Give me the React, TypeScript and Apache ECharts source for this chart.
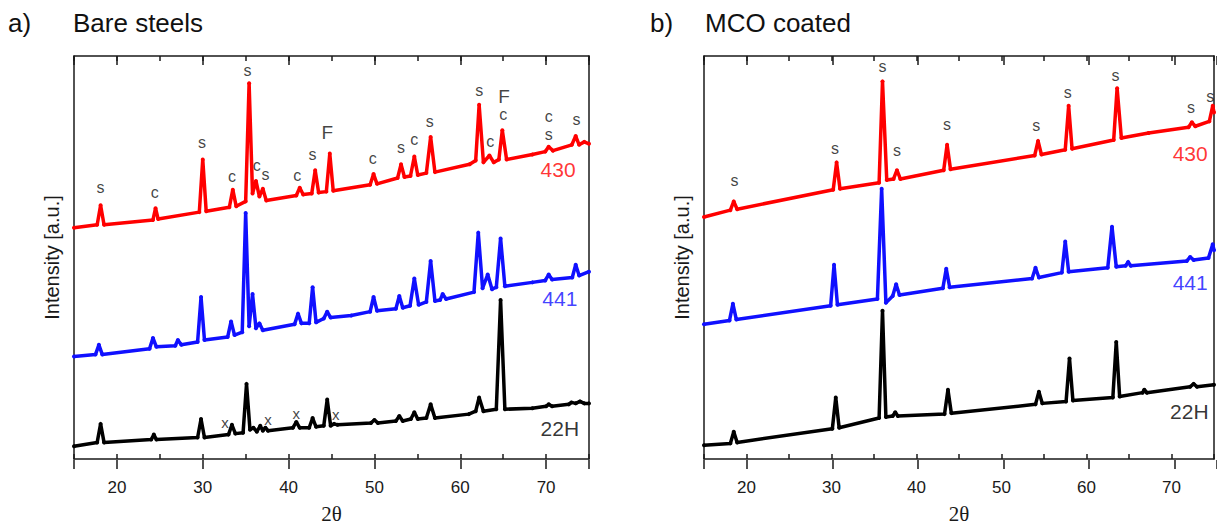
import React, { useEffect, useRef } from 'react';
import * as echarts from 'echarts';

// ---------- data: [2θ, intensity (a.u.)] ----------
const bare430: [number, number][] = [
  [15.0, 237], [17.7, 240], [18.1, 260], [18.5, 240], [24.2, 245], [24.5, 257], [24.8, 246],
  [29.6, 253], [30.0, 307], [30.4, 254], [33.1, 258], [33.5, 276], [33.9, 259], [35.0, 264],
  [35.4, 385], [35.8, 272], [36.2, 285], [36.6, 269], [37.0, 277], [37.4, 265], [40.9, 270],
  [41.3, 278], [41.7, 271], [42.7, 272], [43.1, 296], [43.5, 273], [44.4, 274], [44.8, 313],
  [45.2, 275], [49.5, 281], [49.9, 292], [50.3, 282], [52.7, 288], [53.1, 302], [53.5, 289],
  [54.2, 290], [54.65, 310], [55.05, 291], [56.05, 293], [56.55, 330], [57.05, 294], [61.1, 302],
  [61.8, 306], [62.2, 363], [62.7, 304], [63.4, 311], [63.9, 304], [64.5, 307], [64.9, 337],
  [65.4, 307], [68.4, 312], [69.9, 315], [70.3, 320], [70.8, 316], [73.0, 322], [73.45, 331],
  [73.85, 322], [74.45, 325], [75.0, 323],
];
const bare441: [number, number][] = [
  [15.0, 105], [17.5, 107], [17.9, 117], [18.3, 107], [23.8, 113], [24.2, 124], [24.6, 115],
  [26.8, 116], [27.1, 122], [27.5, 117], [29.4, 120], [29.8, 166], [30.2, 122], [32.9, 125],
  [33.3, 141], [33.7, 127], [34.6, 130], [35.0, 252], [35.4, 136], [35.8, 169], [36.2, 134],
  [36.6, 139], [37.0, 132], [40.7, 138], [41.1, 149], [41.5, 139], [42.4, 139], [42.8, 176],
  [43.2, 140], [44.1, 144], [44.5, 151], [44.9, 145], [47.3, 147], [49.5, 151], [49.9, 166],
  [50.3, 152], [52.5, 154], [52.9, 167], [53.3, 155], [54.15, 157], [54.65, 185], [55.15, 158],
  [56.05, 161], [56.55, 203], [57.05, 162], [57.65, 163], [57.95, 169], [58.35, 164], [61.6, 171],
  [62.1, 232], [62.6, 175], [63.2, 189], [63.7, 174], [64.2, 176], [64.7, 226], [65.2, 177],
  [68.4, 181], [69.9, 183], [70.3, 189], [70.7, 184], [73.05, 186], [73.45, 199], [73.85, 188],
  [75.0, 192],
];
const bare22H: [number, number][] = [
  [15.0, 13], [17.7, 17], [18.1, 36], [18.5, 17], [24.0, 20], [24.3, 25], [24.6, 20],
  [29.4, 22], [29.8, 41], [30.2, 22], [33.0, 25], [33.4, 35], [33.8, 26], [34.7, 27],
  [35.1, 77], [35.5, 30], [35.9, 32], [36.3, 28], [36.7, 34], [37.0, 29], [37.3, 32],
  [37.6, 29], [40.5, 32], [40.9, 38], [41.3, 32], [42.4, 32], [42.8, 42], [43.2, 33],
  [44.1, 34], [44.5, 61], [44.9, 34], [45.3, 36], [45.7, 35], [49.6, 37], [50.0, 40],
  [50.4, 37], [52.5, 39], [52.9, 44], [53.3, 39], [54.25, 41], [54.65, 48], [55.05, 41],
  [56.05, 42], [56.55, 56], [57.05, 42], [61.0, 46], [61.8, 49], [62.2, 63], [62.7, 49],
  [64.2, 51], [64.7, 163], [65.2, 51], [68.4, 52], [70.0, 54], [70.3, 56], [70.7, 54],
  [72.65, 56], [72.95, 58], [73.45, 57], [73.95, 59], [74.45, 57], [75.0, 57],
];
const mco430: [number, number][] = [
  [15.0, 248], [18.1, 255], [18.5, 264], [18.9, 256], [30.2, 276], [30.6, 304], [31.0, 277],
  [35.6, 283], [36.0, 387], [36.5, 286], [37.3, 287], [37.7, 296], [38.1, 287], [43.2, 296],
  [43.6, 322], [44.0, 297], [53.9, 311], [54.3, 326], [54.7, 312], [57.5, 317], [57.9, 362],
  [58.3, 318], [63.2, 327], [63.6, 380], [64.1, 329], [67.3, 334], [72.0, 340], [72.4, 345],
  [72.8, 341], [74.45, 346], [74.85, 362], [75.0, 355],
];
const mco441: [number, number][] = [
  [15.0, 138], [18.0, 142], [18.4, 159], [18.8, 143], [29.9, 157], [30.3, 199], [30.7, 158],
  [35.4, 164], [35.9, 277], [36.4, 160], [37.2, 167], [37.6, 179], [38.0, 168], [43.1, 175],
  [43.5, 195], [43.9, 176], [53.6, 185], [54.0, 196], [54.4, 186], [57.1, 191], [57.5, 223],
  [57.9, 192], [62.5, 196], [63.0, 238], [63.5, 197], [64.6, 198], [64.9, 202], [65.2, 198],
  [71.8, 203], [72.2, 207], [72.6, 204], [74.35, 206], [74.85, 220], [75.0, 214],
];
const mco22H: [number, number][] = [
  [15.0, 14], [18.1, 16], [18.5, 28], [18.9, 17], [30.1, 31], [30.5, 63], [30.9, 32],
  [35.6, 42], [36.0, 152], [36.4, 43], [37.2, 44], [37.5, 48], [37.8, 44], [43.3, 46],
  [43.7, 71], [44.1, 47], [54.0, 56], [54.4, 69], [54.8, 57], [57.6, 59], [58.0, 103],
  [58.4, 60], [63.1, 63], [63.5, 120], [63.9, 64], [66.6, 68], [66.8, 71], [67.1, 68],
  [72.2, 74], [72.6, 77], [73.0, 74], [75.0, 76],
];

// peak annotations: [2θ, intensity, text]
const bareMarks: [number, number, string][] = [
  [18.1, 278, 's'], [24.4, 273, 'c'], [29.9, 324, 's'], [33.4, 289, 'c'], [35.2, 398, 's'],
  [36.3, 301, 'c'], [37.3, 292, 's'], [41.0, 291, 'c'], [42.8, 312, 's'], [44.5, 335, 'F'],
  [49.8, 308, 'c'], [53.1, 319, 's'], [54.65, 327, 'c'], [56.45, 346, 's'], [62.2, 378, 's'],
  [63.5, 325, 'c'], [65.1, 372, 'F'], [65.0, 353, 'c'], [70.3, 351, 'c'], [70.3, 333, 's'],
  [73.55, 348, 's'],
  [32.6, 37, 'x'], [37.6, 40, 'x'], [40.9, 47, 'x'], [45.5, 46, 'x'],
];
const mcoMarks: [number, number, string][] = [
  [18.6, 285, 's'], [30.4, 318, 's'], [36.0, 402, 's'], [37.7, 316, 's'], [43.6, 343, 's'],
  [54.1, 342, 's'], [57.8, 376, 's'], [63.4, 393, 's'], [72.3, 360, 's'], [74.55, 371, 's'],
];
// sample names: [2θ, intensity, text]
const bareNames: [number, number, string][] = [[71.4, 297, '430'], [71.6, 164, '441'], [71.6, 31, '22H']];
const mcoNames: [number, number, string][] = [[72.2, 313, '430'], [72.2, 181, '441'], [72.1, 49, '22H']];

const RED = '#ff0000';
const BLUE = '#1010ff';
const BLACK = '#000000';
const nameColors = [RED, BLUE, BLACK];
const FONT = "'Liberation Sans', Arial, sans-serif";
const INK = '#1a1a1a';

const PANELS = [
  { left: 74, top: 56, width: 515, height: 413 },
  { left: 704, top: 56, width: 516, height: 413 },
];

// grids 0,1: data panels (minor ticks every 5); grids 2,3: overlays with major ticks every 10
function xAxesFor(g: number) {
  const base = { gridIndex: g, type: 'value', min: 15, max: 75, interval: 5, splitLine: { show: false } };
  const line = { show: true, onZero: false, lineStyle: { color: INK, width: 1.5 } };
  const tick = { show: true, inside: true, length: 5, lineStyle: { color: INK, width: 1.5 } };
  return [
    {
      ...base, position: 'bottom', axisLine: line, axisTick: tick,
      axisLabel: {
        show: true, interval: 0, margin: 20, fontSize: 17, fontFamily: FONT, color: INK,
        formatter: (v: number) => (v % 10 === 0 ? String(v) : ''),
      },
      name: '2θ', nameLocation: 'middle', nameGap: 44,
      nameTextStyle: { fontFamily: "'Liberation Serif', 'DejaVu Serif', serif", fontSize: 21, color: INK },
    },
    { ...base, position: 'top', axisLine: line, axisTick: tick, axisLabel: { show: false } },
  ];
}
function majorXAxesFor(g: number) {
  const base = {
    gridIndex: g, type: 'value', min: 15, max: 75, splitNumber: 6, splitLine: { show: false },
    axisLine: { show: false, onZero: false }, axisLabel: { show: false },
    axisTick: { show: true, inside: true, length: 9, lineStyle: { color: INK, width: 1.5 } },
  };
  return [{ ...base, position: 'bottom' }, { ...base, position: 'top' }];
}

function yAxesFor(g: number) {
  const base = {
    gridIndex: g, type: 'value', min: 0, max: 413,
    axisTick: { show: false }, axisLabel: { show: false }, splitLine: { show: false },
    axisLine: { show: true, onZero: false, lineStyle: { color: INK, width: 1.5 } },
  };
  return [
    {
      ...base, position: 'left', name: 'Intensity [a.u.]', nameLocation: 'middle', nameGap: 12,
      nameTextStyle: { fontSize: 20, fontFamily: FONT, color: INK },
    },
    { ...base, position: 'right' },
  ];
}
function hiddenYAxis(g: number) {
  return {
    gridIndex: g, type: 'value', min: 0, max: 413, show: false,
    axisLine: { show: false }, axisTick: { show: false }, axisLabel: { show: false }, splitLine: { show: false },
  };
}

function seriesFor(g: number, curves: [number, number][][], marks: [number, number, string][], names: [number, number, string][]) {
  const colors = [RED, BLUE, BLACK];
  const xi = g * 2;
  const yi = g * 2;
  const lines = curves.map((d, i) => ({
    type: 'line', xAxisIndex: xi, yAxisIndex: yi, data: d, silent: true,
    symbol: 'circle', symbolSize: 4, showSymbol: true, showAllSymbol: true,
    lineStyle: { color: colors[i], width: 3.5 }, itemStyle: { color: colors[i] },
  }));
  const ann = {
    type: 'scatter', xAxisIndex: xi, yAxisIndex: yi, symbolSize: 1, silent: true,
    itemStyle: { color: 'transparent' },
    data: marks.map(([x, y, t]) => ({
      name: t, value: [x, y],
      label: { fontSize: t === 'F' ? 19 : t === 'x' ? 15 : 16 },
    })),
    label: { show: true, position: 'inside', formatter: '{b}', color: '#111', fontFamily: FONT },
    z: 5,
  };
  const nm = {
    type: 'scatter', xAxisIndex: xi, yAxisIndex: yi, symbolSize: 1, silent: true,
    itemStyle: { color: 'transparent' },
    data: names.map(([x, y, t], i) => ({
      name: t, value: [x, y], label: { color: nameColors[i] },
    })),
    label: { show: true, position: 'inside', formatter: '{b}', fontSize: 21, fontFamily: FONT },
    z: 5,
  };
  return [...lines, ann, nm];
}

export default function App() {
  const ref = useRef<HTMLDivElement>(null);
  useEffect(() => {
    document.body.style.margin = '0';
    const chart = echarts.init(ref.current as HTMLDivElement, null, { renderer: 'svg' });
    const titleStyle = { fontSize: 26, fontFamily: FONT, fill: '#111' };
    chart.setOption({
      animation: false,
      backgroundColor: '#ffffff',
      grid: [PANELS[0], PANELS[1], PANELS[0], PANELS[1]],
      xAxis: [...xAxesFor(0), ...xAxesFor(1), ...majorXAxesFor(2), ...majorXAxesFor(3)],
      yAxis: [...yAxesFor(0), ...yAxesFor(1), hiddenYAxis(2), hiddenYAxis(3)],
      series: [
        ...seriesFor(0, [bare430, bare441, bare22H], bareMarks, bareNames),
        ...seriesFor(1, [mco430, mco441, mco22H], mcoMarks, mcoNames),
      ],
      graphic: [
        { type: 'text', left: 8, top: 10, style: { ...titleStyle, text: 'a)' } },
        { type: 'text', left: 73, top: 10, style: { ...titleStyle, text: 'Bare steels' } },
        { type: 'text', left: 650, top: 10, style: { ...titleStyle, text: 'b)' } },
        { type: 'text', left: 705, top: 10, style: { ...titleStyle, text: 'MCO coated' } },
      ],
    });
    return () => chart.dispose();
  }, []);
  return <div ref={ref} style={{ width: 1217, height: 529 }} />;
}
